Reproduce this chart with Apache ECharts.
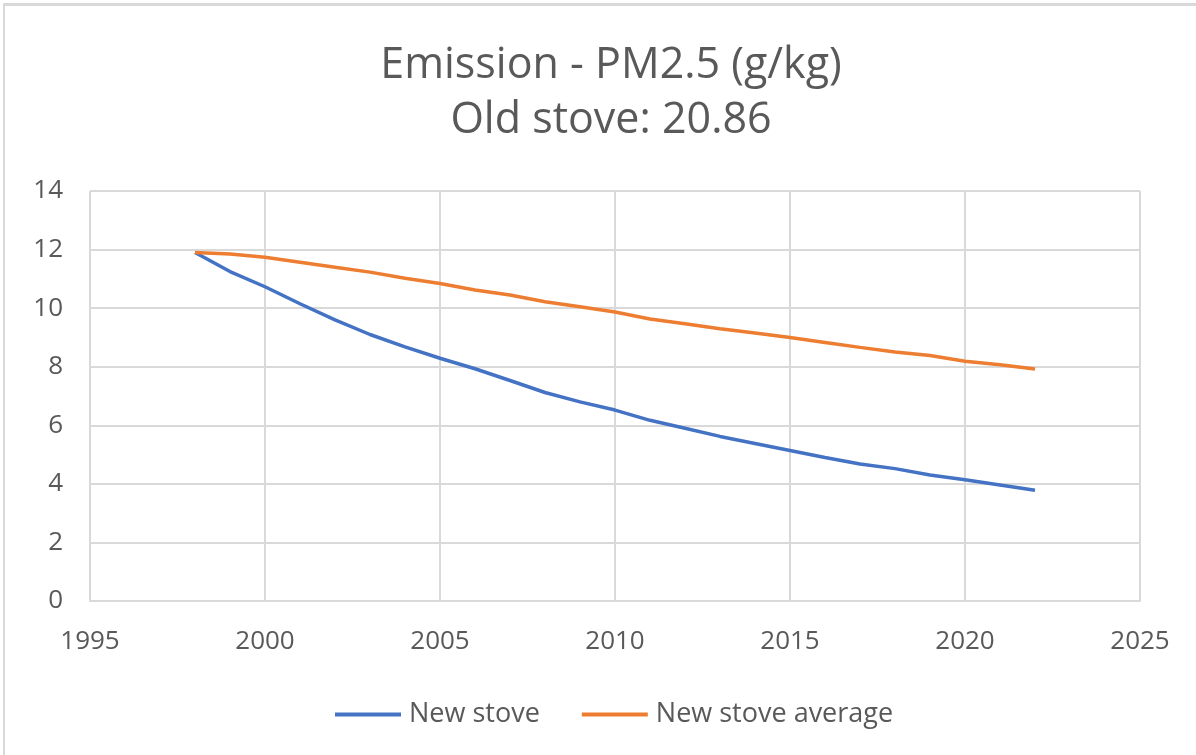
<!DOCTYPE html>
<html lang="en">
<head>
    <meta charset="UTF-8">
    <title>Emission - PM2.5</title>
    <script src="https://cdn.jsdelivr.net/npm/echarts@6/dist/echarts.min.js"></script>
    <style>
        html, body {
            margin: 0;
            padding: 0;
            background: #fff;
            overflow: hidden;
        }
        .main {
            position: absolute;
            left: 3px;
            top: 3px;
            width: 1193px;
            height: 752px;
            border-left: 2px solid #d9d9d9;
            border-top: 3px solid #d9d9d9;
            box-sizing: border-box;
        }
        #chart {
            width: 100%;
            height: 100%;
        }
    </style>
</head>
<body>
<div class="main">
    <div id="chart"></div>
</div>
<script>
    // values, one per year
    var years = [1998, 1999, 2000, 2001, 2002, 2003, 2004, 2005, 2006, 2007, 2008, 2009, 2010,
        2011, 2012, 2013, 2014, 2015, 2016, 2017, 2018, 2019, 2020, 2021, 2022];
    var newStove = [11.9, 11.25, 10.73, 10.15, 9.6, 9.1, 8.68, 8.29, 7.93, 7.53, 7.12, 6.8, 6.52,
        6.17, 5.9, 5.62, 5.38, 5.14, 4.9, 4.68, 4.52, 4.3, 4.14, 3.96, 3.78];
    var newStoveAvg = [11.9, 11.85, 11.74, 11.57, 11.4, 11.23, 11.02, 10.84, 10.62, 10.45, 10.22, 10.05, 9.87,
        9.63, 9.47, 9.3, 9.15, 9.0, 8.83, 8.66, 8.5, 8.38, 8.19, 8.07, 7.92];
    var seriesNames = ['New stove', 'New stove average'];
    var titleLines = ['Emission - PM2.5 (g/kg)', 'Old stove: 20.86'];

    function pairs(xs, ys) {
        return xs.map(function (x, i) { return [x, ys[i]]; });
    }

    var font = '"Open Sans", "DejaVu Sans", sans-serif';
    var chart = echarts.init(document.getElementById('chart'));
    chart.setOption({
        animation: false,
        title: {
            text: titleLines.join('\n'),
            left: 601,
            textAlign: 'center',
            top: 27,
            textStyle: {
                fontFamily: font,
                fontSize: 43,
                fontWeight: 'normal',
                color: '#595959',
                lineHeight: 55
            }
        },
        legend: {
            top: 690,
            left: 325,
            itemWidth: 66,
            itemHeight: 4,
            itemGap: 42,
            icon: 'rect',
            textStyle: { fontFamily: font, fontSize: 27, color: '#595959', padding: [0, 0, 0, 3] },
            data: seriesNames
        },
        grid: {
            left: 85,
            right: 56,
            top: 185,
            bottom: 154
        },
        xAxis: {
            type: 'value',
            min: 1995,
            max: 2025,
            interval: 5,
            axisLine: { show: true, lineStyle: { color: '#d9d9d9', width: 2 } },
            axisTick: { show: false },
            splitLine: { show: true, lineStyle: { color: '#d9d9d9', width: 2 } },
            axisLabel: {
                fontFamily: font, fontSize: 26, color: '#595959', margin: 28,
                formatter: function (v) { return String(v); }
            }
        },
        yAxis: {
            type: 'value',
            min: 0,
            max: 14,
            interval: 2,
            axisLine: { show: false },
            axisTick: { show: false },
            splitLine: { lineStyle: { color: '#d9d9d9', width: 2 } },
            axisLabel: { fontFamily: font, fontSize: 26, color: '#595959', margin: 27 }
        },
        series: [
            {
                name: seriesNames[0],
                type: 'line',
                data: pairs(years, newStove),
                showSymbol: false,
                lineStyle: { color: '#4472c4', width: 3.5 },
                itemStyle: { color: '#4472c4' }
            },
            {
                name: seriesNames[1],
                type: 'line',
                data: pairs(years, newStoveAvg),
                showSymbol: false,
                lineStyle: { color: '#ed7d31', width: 3.5 },
                itemStyle: { color: '#ed7d31' }
            }
        ]
    });
</script>
</body>
</html>
